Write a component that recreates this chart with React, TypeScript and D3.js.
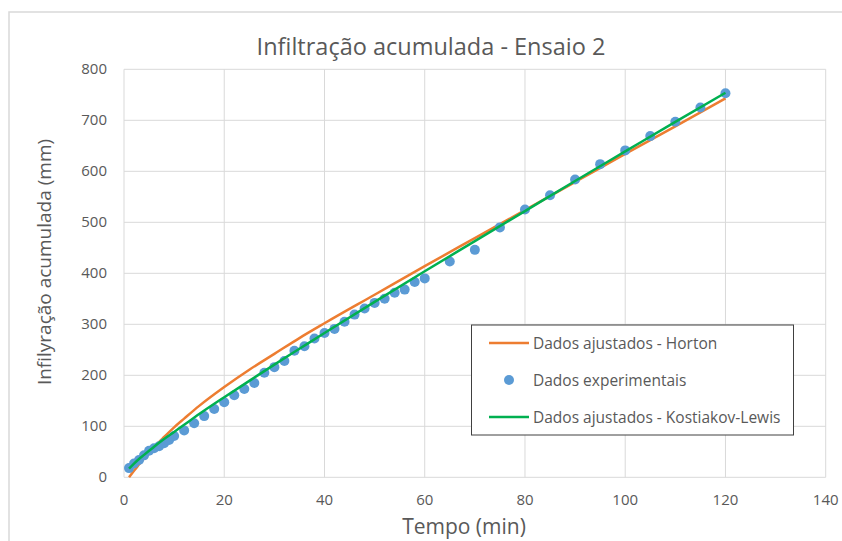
import React from "react";
import * as d3 from "d3";

const experimentalTime = [1, 2, 3, 4, 5, 6, 7, 8, 9, 10, 12, 14, 16, 18, 20, 22, 24, 26, 28, 30, 32, 34, 36, 38, 40, 42, 44, 46, 48, 50, 52, 54, 56, 58, 60, 65, 70, 75, 80, 85, 90, 95, 100, 105, 110, 115, 120];
const experimentalInfiltration = [18, 27, 34, 43, 52, 57, 61, 67, 73, 81, 92, 106, 120, 134, 147, 161, 173, 185, 205, 216, 228, 248, 257, 272, 283, 291, 305, 319, 331, 342, 350, 362, 368, 383, 390, 423, 446, 490, 525, 553, 584, 614, 641, 669, 697, 725, 753];

const hortonTime = [1, 2, 3, 4, 5, 6, 8, 10, 12, 15, 20, 25, 30, 35, 40, 50, 60, 70, 80, 90, 100, 110, 120];
const hortonInfiltration = [0, 13, 25, 37, 48, 59, 79, 98, 115, 140, 177, 211, 242, 273, 302, 358, 414, 469, 524, 579, 634, 688, 743];

const kostiakovTime = [1, 2, 3, 4, 5, 6, 8, 10, 12, 15, 20, 25, 30, 35, 40, 50, 60, 70, 80, 90, 100, 110, 120];
const kostiakovInfiltration = [17, 27, 36, 44, 52, 60, 75, 89, 103, 124, 157, 189, 221, 252, 283, 344, 404, 463, 522, 581, 639, 697, 754];

const xTicks = [0, 20, 40, 60, 80, 100, 120, 140];
const yTicks = [0, 100, 200, 300, 400, 500, 600, 700, 800];

const legendLabels = ["Dados ajustados - Horton", "Dados experimentais", "Dados ajustados - Kostiakov-Lewis"];

const W = 842;
const H = 541;
const FONT = "'Open Sans', sans-serif";
const TXT = "#595959";
const GRID = "#d9d9d9";
const ORANGE = "#ED7D31";
const BLUE = "#5B9BD5";
const GREEN = "#00B050";

export default function App() {
  const x = d3.scaleLinear().domain([0, 140]).range([124, 825.7]);
  const y = d3.scaleLinear().domain([0, 800]).range([477.3, 69.3]);

  const line = d3
    .line<[number, number]>()
    .x((d) => x(d[0]))
    .y((d) => y(d[1]))
    .curve(d3.curveMonotoneX);

  const horton = line(hortonTime.map((t, i) => [t, hortonInfiltration[i]] as [number, number])) || "";
  const kost = line(kostiakovTime.map((t, i) => [t, kostiakovInfiltration[i]] as [number, number])) || "";

  return (
    <svg width={W} height={H} style={{ position: "absolute", left: 0, top: 0, background: "#fff" }} fontFamily={FONT}>
      <rect x={0} y={0} width={W} height={H} fill="#fff" />
      <rect x={9} y={12} width={W} height={H} fill="#fff" stroke={GRID} strokeWidth={1.5} />
      <text x={431} y={55} textAnchor="middle" fontSize={23.5} fill={TXT}>
        Infiltração acumulada - Ensaio 2
      </text>

      {/* grid */}
      {yTicks.map((v) => (
        <line key={"gy" + v} x1={x(0)} x2={x(140)} y1={y(v)} y2={y(v)} stroke={GRID} strokeWidth={1} />
      ))}
      {xTicks.map((v) => (
        <line key={"gx" + v} x1={x(v)} x2={x(v)} y1={y(0)} y2={y(800)} stroke={GRID} strokeWidth={1} />
      ))}

      {/* tick labels */}
      {yTicks.map((v) => (
        <text key={"ty" + v} x={107} y={y(v) + 5} textAnchor="end" fontSize={15} fill={TXT}>
          {v}
        </text>
      ))}
      {xTicks.map((v) => (
        <text key={"tx" + v} x={x(v)} y={505} textAnchor="middle" fontSize={15} fill={TXT}>
          {v}
        </text>
      ))}

      {/* axis titles */}
      <text x={464} y={534} textAnchor="middle" fontSize={21} fill={TXT}>
        Tempo (min)
      </text>
      <text
        transform={`translate(51,262) rotate(-90)`}
        textAnchor="middle"
        fontSize={19}
        fill={TXT}
      >
        Infilyração acumulada (mm)
      </text>

      {/* series */}
      <path d={horton} fill="none" stroke={ORANGE} strokeWidth={2.5} />
      {experimentalTime.map((t, i) => (
        <circle key={"p" + i} cx={x(t)} cy={y(experimentalInfiltration[i])} r={5} fill={BLUE} />
      ))}
      <path d={kost} fill="none" stroke={GREEN} strokeWidth={2.5} />

      {/* legend */}
      <rect x={471.5} y={325} width={322} height={110} fill="#fff" stroke="#404040" strokeWidth={1} />
      <line x1={489} x2={529} y1={343} y2={343} stroke={ORANGE} strokeWidth={2.5} />
      <circle cx={509} cy={380} r={5} fill={BLUE} />
      <line x1={489} x2={529} y1={417} y2={417} stroke={GREEN} strokeWidth={2.5} />
      {legendLabels.map((l, i) => (
        <text key={"l" + i} x={533} y={343 + i * 37 + 5.5} fontSize={15.5} fill={TXT}>
          {l}
        </text>
      ))}
    </svg>
  );
}
